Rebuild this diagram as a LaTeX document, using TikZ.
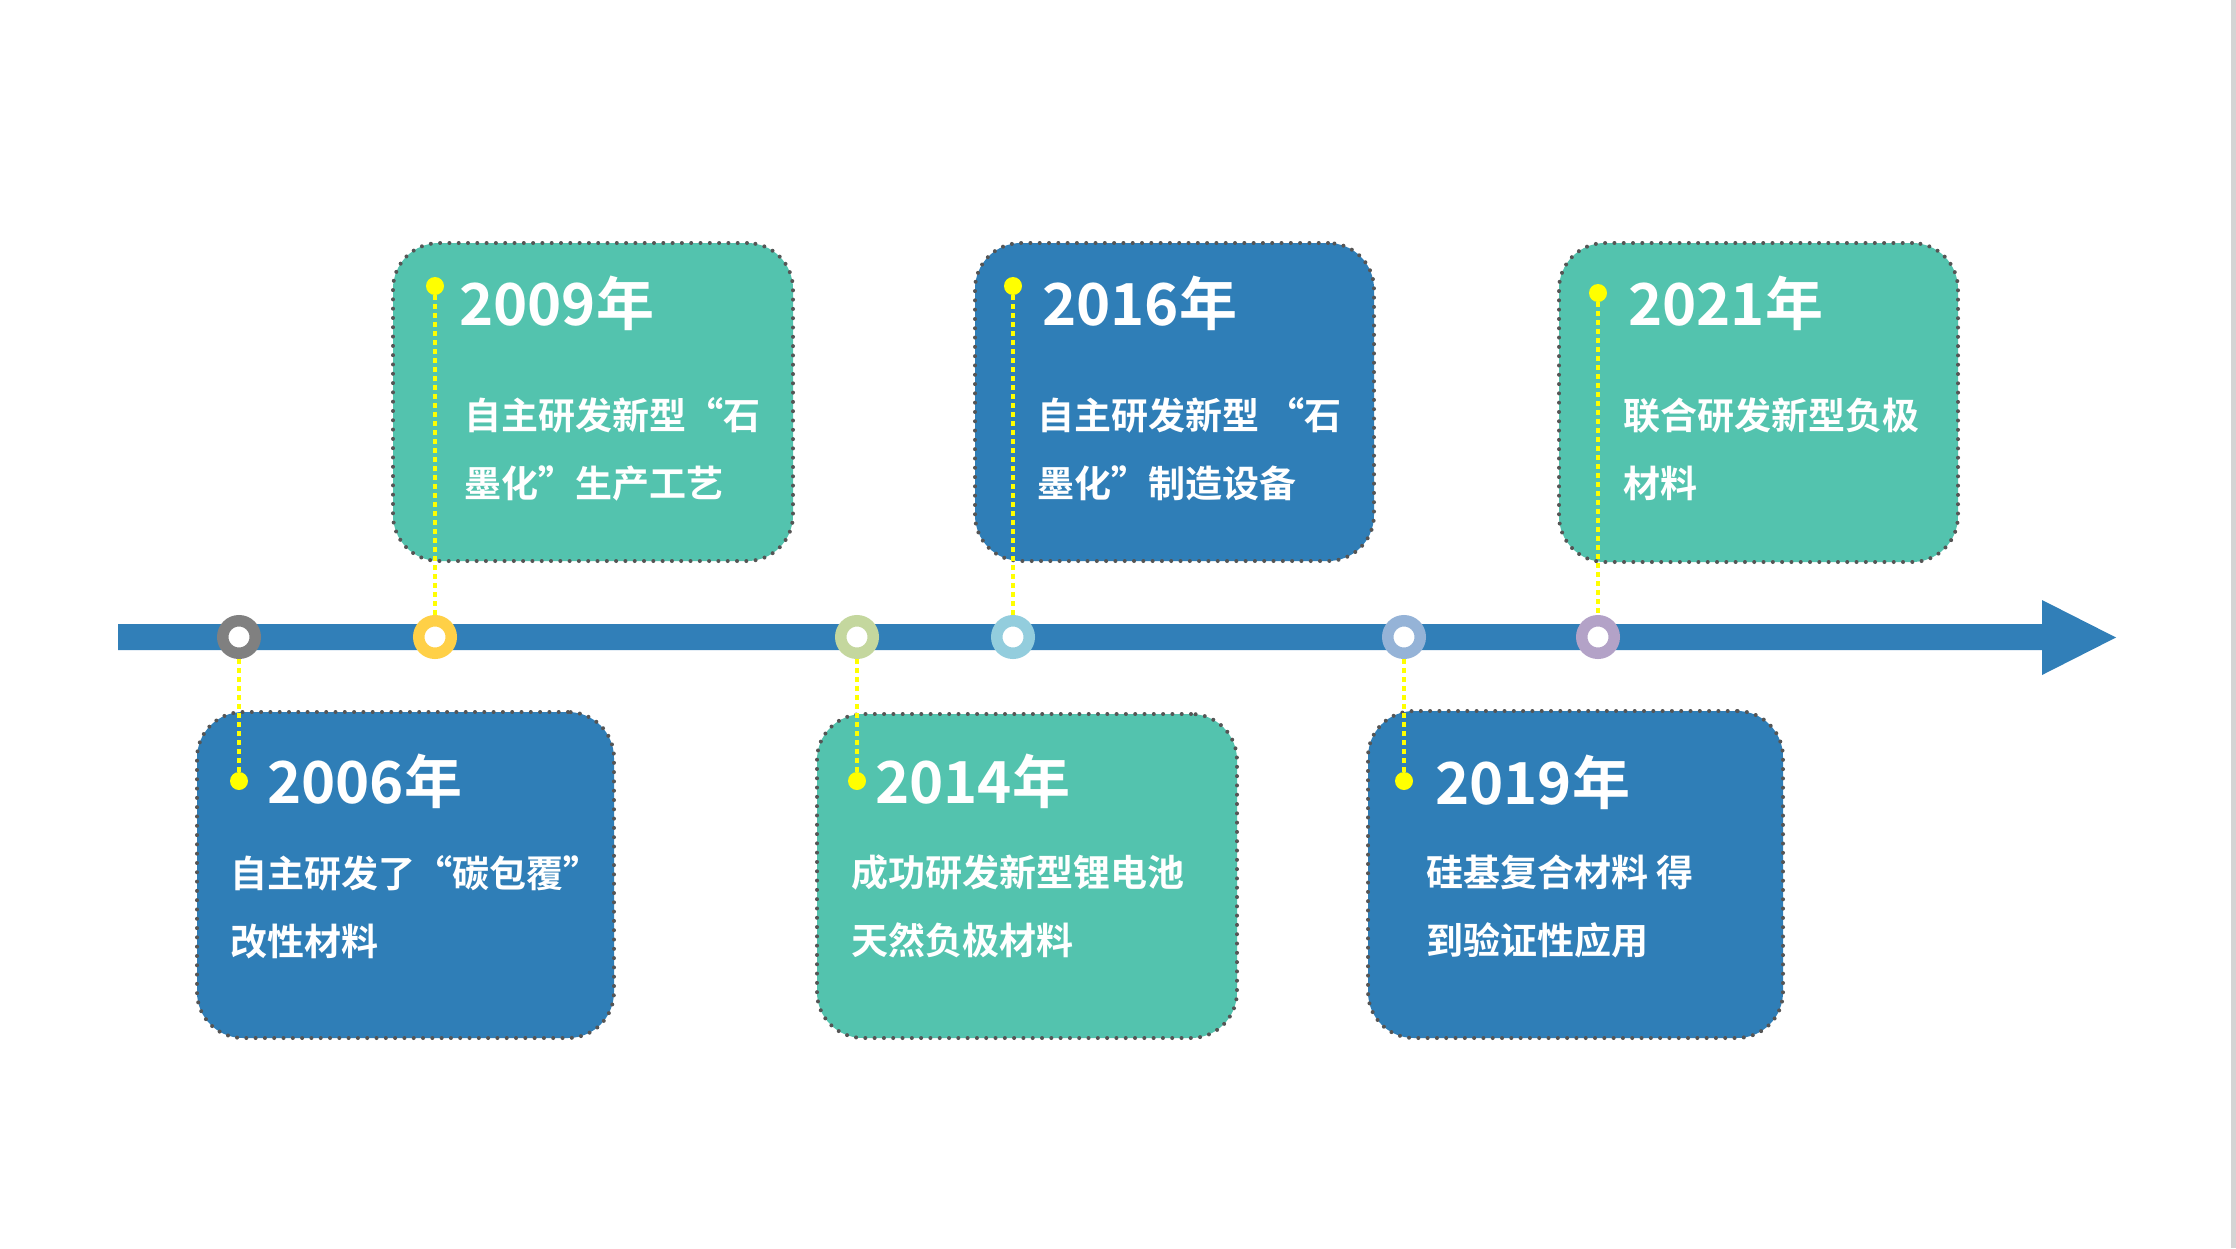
\documentclass[tikz,border=0pt]{standalone}
\usepackage{fontspec}
\setmainfont{Noto Sans CJK SC}[BoldFont={Noto Sans CJK SC Bold}]
\newfontfamily\quotefont{Noto Sans CJK SC Bold}[RawFeature=+fwid]
\newcommand{\qopen}{{\quotefont “}}
\newcommand{\qclose}{{\quotefont ”}}
\definecolor{barblue}{HTML}{317FB8}
\definecolor{boxblue}{HTML}{2F7EB7}
\definecolor{boxteal}{HTML}{53C3AE}
\definecolor{boxborder}{HTML}{555555}
\definecolor{dotyellow}{HTML}{FFFF00}
\definecolor{ringgray}{HTML}{808080}
\definecolor{ringgold}{HTML}{FFD047}
\definecolor{ringolive}{HTML}{C4D79E}
\definecolor{ringsky}{HTML}{93CDDD}
\definecolor{ringsteel}{HTML}{95B3D7}
\definecolor{ringlilac}{HTML}{B3A2C7}
\definecolor{edgegray}{HTML}{D4D4D4}
\begin{document}
\begin{tikzpicture}[x=1pt,y=-1pt,
  box/.style={draw=boxborder, line width=4pt, dash pattern=on 0pt off 9.3pt,
    line cap=round, rounded corners=46pt, inner sep=0pt},
  year/.style={anchor=base west, inner sep=0pt, text=white,
    font=\fontsize{58pt}{58pt}\selectfont\bfseries},
  body/.style={anchor=base west, inner sep=0pt, text=white, align=left,
    font=\fontsize{37pt}{68pt}\selectfont\bfseries},
  ring/.style={circle, draw=#1, line width=11.5pt, fill=white,
    minimum size=32.5pt, inner sep=0pt},
  dot/.style={circle, fill=dotyellow, minimum size=18pt, inner sep=0pt},
  link/.style={draw=dotyellow, line width=4pt, dash pattern=on 4.5pt off 4.5pt}]
\useasboundingbox (0,0) rectangle (2236,1248);
\fill[white] (0,0) rectangle (2236,1248);
\fill[edgegray] (2231,0) rectangle (2236,1248);

\node[box, fill=boxblue, minimum width=417pt, minimum height=326pt] (b2006) at (405.5,875) {};
\node[box, fill=boxteal, minimum width=400pt, minimum height=318pt] (b2009) at (593,402) {};
\node[box, fill=boxteal, minimum width=420pt, minimum height=324pt] (b2014) at (1027,876) {};
\node[box, fill=boxblue, minimum width=399pt, minimum height=318pt] (b2016) at (1174.5,402) {};
\node[box, fill=boxblue, minimum width=415pt, minimum height=327pt] (b2019) at (1575.5,874.5) {};
\node[box, fill=boxteal, minimum width=399pt, minimum height=319pt] (b2021) at (1758.5,402.5) {};

\node[year] (y2006) at (267,803) {2006年};
\node[year] (y2009) at (459,325) {2009年};
\node[year] (y2014) at (875,803) {2014年};
\node[year] (y2016) at (1042,325) {2016年};
\node[year] (y2019) at (1435,804) {2019年};
\node[year] (y2021) at (1628,325) {2021年};

\node[body] (t2006) at (230,955) {自主研发了\qopen 碳包覆\qclose\\改性材料};
\node[body] (t2009) at (464,497) {自主研发新型\qopen 石\\墨化\qclose 生产工艺};
\node[body] (t2014) at (851,954) {成功研发新型锂电池\\天然负极材料};
\node[body] (t2016) at (1037,497) {自主研发新型 \qopen 石\\墨化\qclose 制造设备};
\node[body] (t2019) at (1426,954) {硅基复合材料 得\\到验证性应用};
\node[body] (t2021) at (1623,497) {联合研发新型负极\\材料};

\fill[barblue] (118,624) -- (2042,624) -- (2042,600) -- (2116,637.5)
  -- (2042,675) -- (2042,650) -- (118,650) -- cycle;

\node[ring=ringgray] (r2006) at (239,637) {};
\node[ring=ringgold] (r2009) at (435,637) {};
\node[ring=ringolive] (r2014) at (857,637) {};
\node[ring=ringsky] (r2016) at (1013,637) {};
\node[ring=ringsteel] (r2019) at (1404,637) {};
\node[ring=ringlilac] (r2021) at (1598,637) {};

\node[dot] (d2006) at (239,781) {};
\node[dot] (d2009) at (435,286) {};
\node[dot] (d2014) at (857,781) {};
\node[dot] (d2016) at (1013,286) {};
\node[dot] (d2019) at (1404,781) {};
\node[dot] (d2021) at (1598,293) {};

\draw[link] (d2006) -- (r2006);
\draw[link] (d2009) -- (r2009);
\draw[link] (d2014) -- (r2014);
\draw[link] (d2016) -- (r2016);
\draw[link] (d2019) -- (r2019);
\draw[link] (d2021) -- (r2021);
\end{tikzpicture}
\end{document}
